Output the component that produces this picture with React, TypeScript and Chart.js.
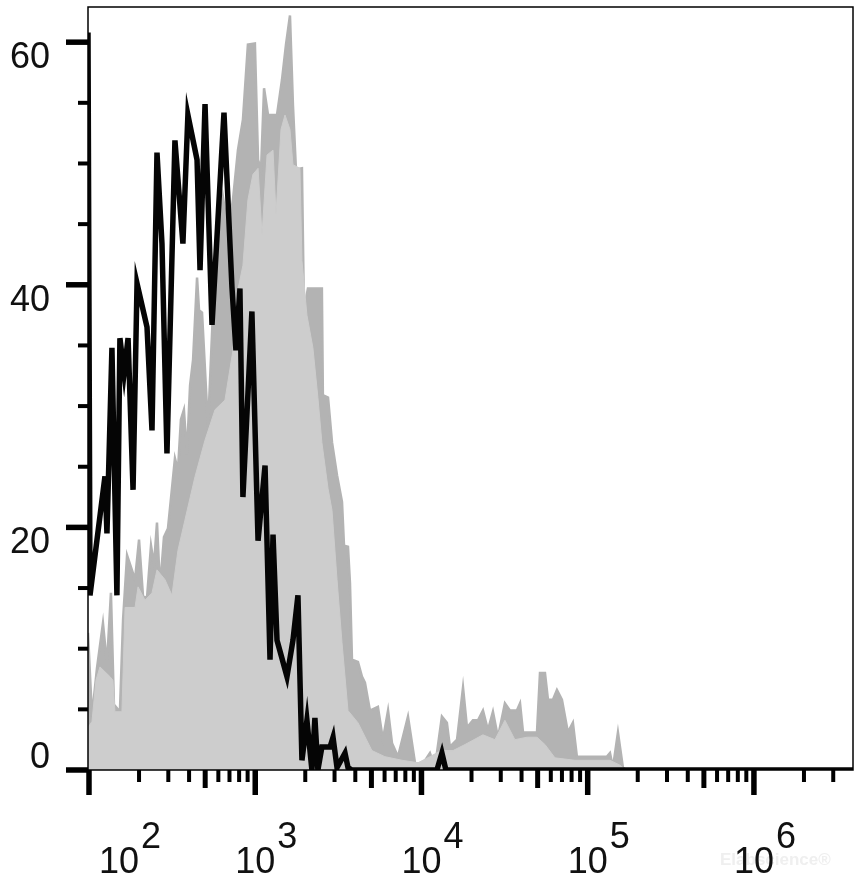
import React, { useEffect, useRef } from "react";
import { Chart, registerables } from "chart.js";

Chart.register(...registerables);

// x values are log10(fluorescence intensity); y values are counts
const X_MIN = 1.994;
const X_MAX = 6.596;
const Y_MIN = 0;
const Y_MAX = 62.9;

const blackX = [1.994, 2.006, 2.096, 2.108, 2.138, 2.168, 2.186, 2.211, 2.235, 2.265, 2.289, 2.349, 2.379, 2.409, 2.439, 2.469, 2.517, 2.565, 2.595, 2.650, 2.668, 2.698, 2.740, 2.812, 2.860, 2.884, 2.908, 2.926, 2.980, 3.017, 3.059, 3.089, 3.107, 3.131, 3.191, 3.227, 3.257, 3.281, 3.311, 3.341, 3.359, 3.377, 3.401, 3.450, 3.468, 3.492, 3.540, 3.558, 3.582, 4.093, 4.123, 4.147, 6.596];
const blackY = [60.8, 14.4, 24.2, 19.5, 34.8, 14.4, 35.6, 32.7, 35.6, 23.1, 40.1, 36.5, 28.0, 50.9, 43.4, 26.1, 51.9, 43.4, 54.0, 50.3, 41.2, 54.9, 36.7, 54.2, 39.8, 34.6, 39.7, 22.5, 37.8, 18.9, 25.1, 9.1, 19.4, 10.7, 7.7, 10.7, 14.4, 0.8, 4.1, 0, 4.3, 0, 1.9, 1.9, 2.7, 0.2, 1.4, 0.2, 0, 0, 1.4, 0, 0];

const darkX = [1.994, 2.018, 2.048, 2.084, 2.108, 2.132, 2.150, 2.186, 2.205, 2.229,
  2.253, 2.277, 2.301, 2.325, 2.349, 2.373, 2.391, 2.409, 2.427, 2.451,
  2.475, 2.499, 2.517, 2.535, 2.553, 2.571, 2.589, 2.608, 2.626, 2.650,
  2.662, 2.680, 2.716, 2.746, 2.776, 2.806, 2.836, 2.866, 2.896, 2.926,
  2.956, 2.998, 3.017, 3.035, 3.053, 3.077, 3.131, 3.161, 3.185, 3.209,
  3.227, 3.245, 3.281, 3.293, 3.317, 3.401, 3.407, 3.438, 3.462, 3.492,
  3.522, 3.534, 3.558, 3.570, 3.582, 3.618, 3.642, 3.660, 3.690, 3.738,
  3.768, 3.799, 3.823, 3.859, 3.919, 3.961, 4.003, 4.051, 4.081, 4.123,
  4.153, 4.171, 4.214, 4.250, 4.274, 4.310, 4.340, 4.370, 4.400, 4.430,
  4.460, 4.502, 4.532, 4.574, 4.593, 4.611, 4.695, 4.713, 4.743, 4.761,
  4.791, 4.815, 4.845, 4.881, 4.911, 4.935, 5.116, 5.134, 5.152, 5.182,
  5.212, 5.230, 6.596];
const darkY = [11.3, 4.4, 8.4, 12.1, 8.7, 14.6, 5.4, 4.8, 12.4, 17.7,
  16.7, 15.7, 19.0, 14.3, 14.2, 18.5, 16.9, 20.4, 15.0, 19.2,
  19.9, 23.2, 25.7, 24.7, 28.9, 29.7, 26.0, 31.7, 33.8, 40.6,
  37.9, 37.7, 28.2, 37.9, 43.7, 47.2, 44.5, 47.0, 51.1, 53.6,
  59.8, 59.9, 50.3, 49.5, 56.2, 54.0, 54.0, 56.9, 59.8, 62.2,
  54.8, 49.5, 49.6, 37.9, 39.7, 39.7, 30.9, 30.7, 27.0, 24.3,
  22.1, 18.5, 18.4, 15.4, 9.1, 8.9, 7.7, 7.2, 4.9, 5.2,
  2.5, 4.9, 2.2, 1.1, 4.4, 0.6, 0.4, 1.4, 0.2, 4.4,
  3.9, 1.9, 2.5, 6.8, 3.5, 4.1, 4.1, 4.9, 3.3, 4.8,
  2.7, 5.5, 4.9, 4.9, 5.5, 3.1, 3.1, 8.0, 8.0, 5.8,
  5.8, 6.6, 5.8, 3.1, 3.9, 1.1, 1.1, 1.4, 0.2, 3.1,
  0.2, 0, 0];

const lightX = [1.994, 2.018, 2.042, 2.066, 2.126, 2.144, 2.156, 2.198, 2.217, 2.277,
  2.295, 2.337, 2.379, 2.409, 2.457, 2.499, 2.535, 2.577, 2.638, 2.698,
  2.758, 2.818, 2.866, 2.896, 2.926, 2.956, 2.986, 3.017, 3.041, 3.071,
  3.107, 3.125, 3.155, 3.179, 3.209, 3.227, 3.269, 3.281, 3.311, 3.347,
  3.377, 3.401, 3.438, 3.462, 3.492, 3.522, 3.558, 3.618, 3.702, 3.780,
  3.883, 3.979, 4.051, 4.117, 4.190, 4.262, 4.370, 4.442, 4.502, 4.562,
  4.635, 4.695, 4.743, 4.803, 4.923, 5.134, 5.194, 5.224, 6.596];
const lightY = [3.5, 4.0, 7.4, 8.5, 7.7, 7.4, 4.8, 4.8, 13.4, 13.4,
  15.1, 14.0, 14.6, 16.5, 15.7, 14.4, 18.1, 20.6, 24.2, 27.2,
  29.7, 30.5, 34.6, 39.6, 41.6, 47.0, 49.1, 49.6, 44.1, 50.7,
  51.1, 45.8, 52.8, 54.0, 52.8, 49.9, 49.6, 42.0, 37.5, 34.8,
  30.7, 27.0, 23.2, 21.4, 15.7, 10.5, 4.9, 3.9, 1.6, 1.1,
  0.8, 0.6, 1.1, 1.6, 1.6, 2.1, 2.9, 2.5, 4.1, 2.5,
  2.7, 2.7, 2.1, 1.0, 0.8, 0.8, 0.4, 0, 0];

const xDecades = [2, 3, 4, 5, 6];
const xTickBase = "10";
const xTickExponents = ["2", "3", "4", "5", "6"];
const yMajorTicks = [0, 20, 40, 60];
const yTickLabels = ["0", "20", "40", "60"];
const yMinorTicks = [5, 10, 15, 25, 30, 35, 45, 50, 55];
const watermark = "Elabscience®";

const FONT = "'Liberation Sans', Arial, Helvetica, sans-serif";

const toPoints = (xs: number[], ys: number[]) => xs.map((x, i) => ({ x, y: ys[i] }));

const axesPlugin = {
  id: "flowAxes",
  afterDraw(chart: any) {
    const { ctx, chartArea: a, scales } = chart;
    const xs = scales.x;
    const ys = scales.y;
    ctx.save();
    ctx.lineCap = "butt";
    const line = (x1: number, y1: number, x2: number, y2: number, w: number) => {
      ctx.beginPath();
      ctx.lineWidth = w;
      ctx.strokeStyle = "#000";
      ctx.moveTo(x1, y1);
      ctx.lineTo(x2, y2);
      ctx.stroke();
    };
    // frame
    ctx.strokeStyle = "#000";
    ctx.lineWidth = 1.5;
    ctx.strokeRect(a.left, a.top, a.right - a.left, a.bottom - a.top);

    // y ticks
    for (const v of yMinorTicks) {
      const p = ys.getPixelForValue(v);
      line(a.left - 10, p, a.left, p, 4);
    }
    for (const v of yMajorTicks) {
      const p = ys.getPixelForValue(v);
      line(a.left - 22, p, a.left, p, 5.5);
    }
    // x ticks (log decades)
    for (const d of xDecades) {
      for (let m = 1; m <= 9; m++) {
        const v = d + Math.log10(m);
        if (v < xs.min || v > xs.max) continue;
        const p = xs.getPixelForValue(v);
        const len = m === 1 ? 25 : m === 5 ? 18 : 12;
        const w = m === 1 ? 5.5 : m === 5 ? 5 : 4;
        line(p, a.bottom, p, a.bottom + len, w);
      }
    }

    // watermark
    ctx.fillStyle = "#efefef";
    ctx.font = `bold 17px ${FONT}`;
    ctx.textAlign = "left";
    ctx.textBaseline = "alphabetic";
    ctx.fillText(watermark, 720, 865);

    // y labels
    ctx.fillStyle = "#111";
    ctx.font = `36px ${FONT}`;
    ctx.textAlign = "right";
    yMajorTicks.forEach((v, i) => {
      const p = ys.getPixelForValue(v);
      const base = v === 0 ? p - 2 : p + 26;
      ctx.fillText(yTickLabels[i], a.left - 38, base);
    });

    // x labels: 10 with superscript exponent
    xDecades.forEach((d, i) => {
      const p = xs.getPixelForValue(d);
      const cx = Math.max(p, a.left + 31);
      ctx.textAlign = "center";
      ctx.fillText(xTickBase, cx, a.bottom + 103);
      const half = ctx.measureText(xTickBase).width / 2;
      ctx.textAlign = "left";
      ctx.fillText(xTickExponents[i], cx + half + 2, a.bottom + 78);
    });
    ctx.restore();
  },
};

export default function App() {
  const ref = useRef<HTMLCanvasElement | null>(null);
  useEffect(() => {
    if (!ref.current) return;
    const chart = new Chart(ref.current, {
      type: "line",
      data: {
        datasets: [
          {
            label: "sample",
            data: toPoints(blackX, blackY),
            borderColor: "#050505",
            borderWidth: 5.5,
            pointRadius: 0,
            fill: false,
            tension: 0,
            order: 0,
          },
          {
            label: "control light",
            data: toPoints(lightX, lightY),
            borderColor: "#cdcdcd",
            backgroundColor: "#cdcdcd",
            borderWidth: 1,
            pointRadius: 0,
            fill: "origin",
            tension: 0,
            order: 1,
          },
          {
            label: "control dark",
            data: toPoints(darkX, darkY),
            borderColor: "#b3b3b3",
            backgroundColor: "#b3b3b3",
            borderWidth: 2.5,
            pointRadius: 0,
            fill: "origin",
            tension: 0,
            order: 2,
          },
        ],
      } as any,
      options: {
        animation: false,
        responsive: false,
        maintainAspectRatio: false,
        events: [],
        layout: { padding: { left: 88, top: 7, right: 5, bottom: 121 } },
        scales: {
          x: { type: "linear", min: X_MIN, max: X_MAX, display: false },
          y: { type: "linear", min: Y_MIN, max: Y_MAX, display: false },
        },
        plugins: { legend: { display: false }, tooltip: { enabled: false } },
      } as any,
      plugins: [axesPlugin],
    });
    return () => chart.destroy();
  }, []);
  return (
    <div style={{ position: "absolute", left: 0, top: 0, width: 858, height: 891, background: "#fff" }}>
      <canvas ref={ref} width={858} height={891} style={{ display: "block" }} />
    </div>
  );
}
